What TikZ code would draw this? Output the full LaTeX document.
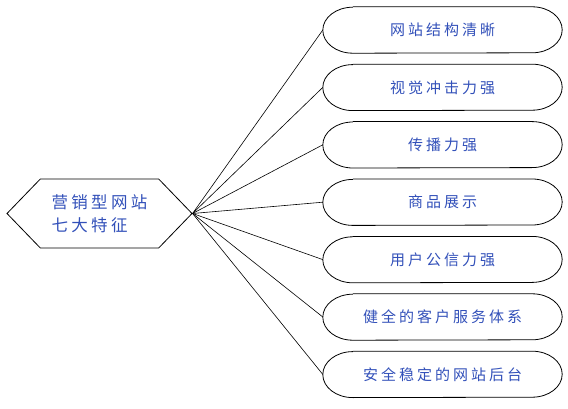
\documentclass[tikz,border=0pt]{standalone}
\usepackage{fontspec}
\newfontfamily\cjkfont[LetterSpace=20]{Noto Sans CJK SC}
\usetikzlibrary{shapes.symbols}
\definecolor{textblue}{RGB}{50,80,185}
\tikzset{
  core/.style={signal, signal to=west and east, signal pointer angle=92,
    draw, line width=0.8pt, minimum width=185pt, minimum height=69pt,
    inner sep=0pt, align=left, text=textblue,
    font=\cjkfont\fontsize{16.5}{23}\selectfont},
  feature/.style={rectangle, minimum width=239pt, minimum height=46pt,
    inner sep=0pt, text=textblue, font=\cjkfont\fontsize{15}{17}\selectfont},
  link/.style={line width=0.6pt}
}
\begin{document}
\begin{tikzpicture}[x=1pt, y=-1pt, node distance=57.4pt]
    \useasboundingbox (0,0) rectangle (568,409);

    \node[core] (core) at (99.5,213.5) {营销型网站\\七大特征};

    \node[feature] (f1) at (442.5,30) {网站结构清晰};
    \node[feature, below of=f1] (f2) {视觉冲击力强};
    \node[feature, below of=f2] (f3) {传播力强\hspace{21pt}};
    \node[feature, below of=f3] (f4) {商品展示\hspace{55pt}};
    \node[feature, below of=f4] (f5) {用户公信力强};
    \node[feature, below of=f5] (f6) {健全的客户服务体系};
    \node[feature, below of=f6] (f7) {安全稳定的网站后台};

    % outlines with long rounded ends
    \foreach \n in {f1,f2,f3,f4,f5,f6,f7}
        \draw[line width=0.8pt] ([xshift=30pt]\n.north west) -- ([xshift=-30pt]\n.north east)
            arc[start angle=90, end angle=-90, x radius=30pt, y radius=23pt]
            -- ([xshift=30pt]\n.south west)
            arc[start angle=270, end angle=90, x radius=30pt, y radius=23pt];

    \foreach \n in {f1,f2,f3,f4,f5,f6,f7}
        \draw[link] (core.east) -- (\n.west);
\end{tikzpicture}
\end{document}
